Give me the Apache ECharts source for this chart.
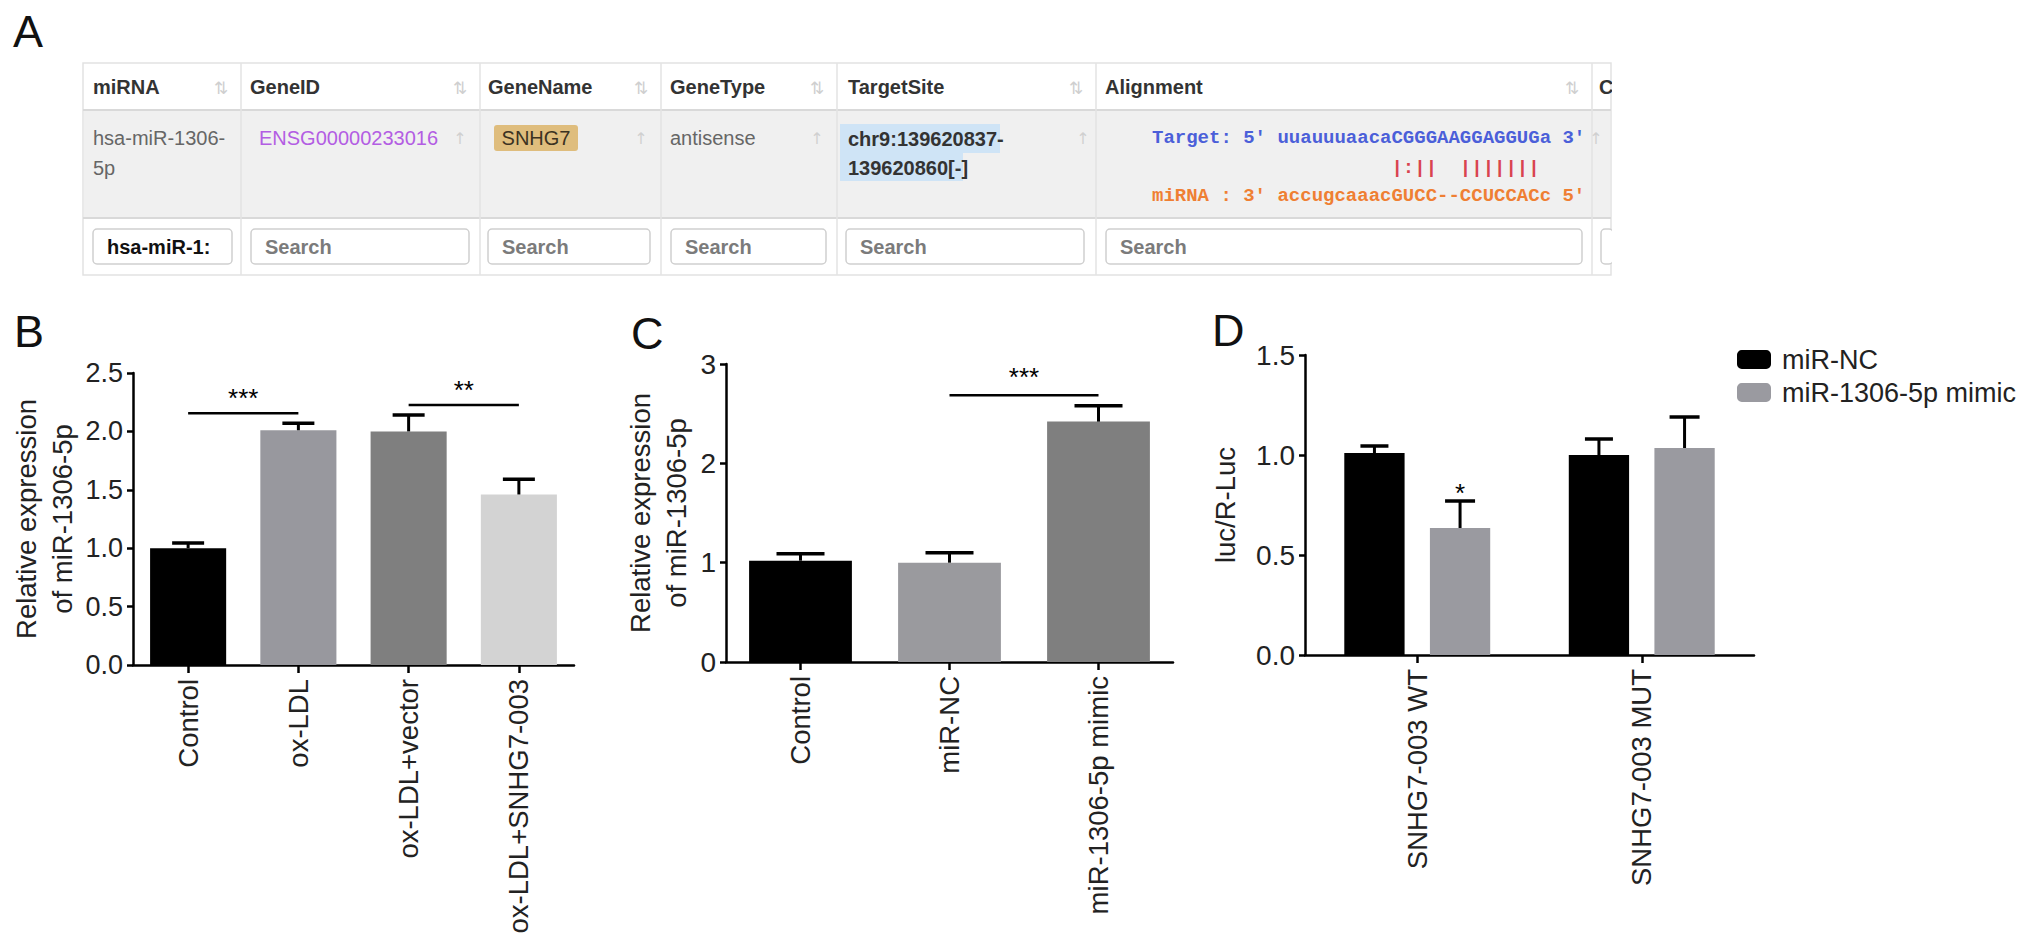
<!DOCTYPE html>
<html>
<head>
<meta charset="utf-8">
<title>SNHG7-003 / miR-1306-5p</title>
<script src="https://cdn.jsdelivr.net/npm/echarts@6.0.0/dist/echarts.min.js"></script>
<style>
  html, body { margin: 0; padding: 0; background: #fff; }
  #fig { width: 2032px; height: 950px; }
</style>
</head>
<body>
<div id="fig"></div>
<script>
// ---- panel A: starBase row ----
var tableHeaders = ['miRNA', 'GeneID', 'GeneName', 'GeneType', 'TargetSite', 'Alignment', 'C'];
var rowMirna = ['hsa-miR-1306-', '5p'];
var rowGeneId = 'ENSG00000233016';
var rowGeneName = 'SNHG7';
var rowGeneType = 'antisense';
var rowTargetSite = ['chr9:139620837-', '139620860[-]'];
var alignTarget = "Target: 5' uuauuuaacaCGGGAAGGAGGUGa 3'";
var alignPairs  = "                     |:||  |||||||";
var alignMirna  = "miRNA : 3' accugcaaacGUCC--CCUCCACc 5'";
var searchTexts = ['hsa-miR-1:', 'Search', 'Search', 'Search', 'Search', 'Search', ''];

// ---- panel B ----
var catB = ['Control', 'ox-LDL', 'ox-LDL+vector', 'ox-LDL+SNHG7-003'];
var valB = [1.0, 2.01, 2.0, 1.46];
var errB = [0.045, 0.06, 0.14, 0.13];
var sigB = [[0, 1, 2.155, '***'], [2, 3, 2.227, '**']];
var ticksB = [0, 2.5, 0.5];

// ---- panel C ----
var catC = ['Control', 'miR-NC', 'miR-1306-5p mimic'];
var valC = [1.02, 1.0, 2.42];
var errC = [0.07, 0.10, 0.16];
var sigC = [[1, 2, 2.685, '***']];
var ticksC = [0, 3, 1];

// ---- panel D ----
var catD = ['SNHG7-003 WT', 'SNHG7-003 MUT'];
var seriesNamesD = ['miR-NC', 'miR-1306-5p mimic'];
var valDnc = [1.01, 1.0];
var errDnc = [0.035, 0.08];
var valDmimic = [0.635, 1.035];
var errDmimic = [0.135, 0.155];
var starD = [[0, 0.84, '*']];
var ticksD = [0, 1.5, 0.5];

var FONT = '"Liberation Sans", Arial, sans-serif';
var MONO = '"Liberation Mono", "DejaVu Sans Mono", monospace';

// table layout
var colX = [83, 241, 480, 661, 837, 1096, 1592, 1611];
var headX = [93, 250, 488, 670, 848, 1105, 1599];
var rowArrowX = [null, 460, 641, 817, 1083, 1596];
var boxX = [[93, 232], [251, 469], [488, 650], [671, 826], [846, 1084], [1106, 1582], [1601, 1613]];
var tTop = 63, tHead = 110, tData = 218, tBot = 275;

function txt(s, x, y, o) {
  o = o || {};
  return {
    type: 'text', silent: true, z: o.z || 10,
    style: {
      text: s, x: x, y: y,
      fontSize: o.size || 20, fontFamily: o.family || FONT, fontWeight: o.weight || 'normal',
      fill: o.color || '#333', align: o.align || 'left', verticalAlign: o.va || 'middle',
      lineHeight: o.lh
    }
  };
}

var g = [];
g.push({type: 'rect', silent: true, shape: {x: colX[0], y: tTop, width: colX[7] - colX[0], height: tBot - tTop},
        style: {fill: '#fff', stroke: '#e2e2e2', lineWidth: 1.5}});
g.push({type: 'rect', silent: true, shape: {x: colX[0] + 1, y: tHead, width: colX[7] - colX[0] - 2, height: tData - tHead},
        style: {fill: '#f0f0f0'}});
[tHead, tData].forEach(function (y) {
  g.push({type: 'line', silent: true, shape: {x1: colX[0], y1: y, x2: colX[7], y2: y}, style: {stroke: '#d9d9d9', lineWidth: 2}});
});
colX.slice(1, 7).forEach(function (x) {
  g.push({type: 'line', silent: true, shape: {x1: x, y1: tTop, x2: x, y2: tBot}, style: {stroke: '#e3e3e3', lineWidth: 1.5}});
});

tableHeaders.forEach(function (h, i) {
  g.push(txt(h, headX[i], 87, {weight: 'bold', color: '#333'}));
  if (i < 6) {
    g.push(txt('\u21c5', colX[i + 1] - 20, 88, {family: '"DejaVu Sans"', size: 17, color: '#cfcfcf', align: 'center'}));
  }
  if (rowArrowX[i]) {
    g.push(txt('\u2191', rowArrowX[i], 138, {family: '"DejaVu Sans"', size: 16, color: '#d0d0d0', align: 'center'}));
  }
});

// data row
g.push(txt(rowMirna.join('\n'), 93, 123, {color: '#666', va: 'top', lh: 30}));
g.push(txt(rowGeneId, 259, 138, {color: '#b35de3'}));
g.push({type: 'rect', silent: true, shape: {x: 494, y: 125, width: 84, height: 26, r: 3}, style: {fill: '#dfbd7d'}});
g.push(txt(rowGeneName, 536, 138, {color: '#3b3222', align: 'center'}));
g.push(txt(rowGeneType, 670, 138, {color: '#666'}));
g.push({type: 'rect', silent: true, shape: {x: 840, y: 124, width: 160, height: 29}, style: {fill: '#cfe4f6'}});
g.push({type: 'rect', silent: true, shape: {x: 840, y: 153, width: 123, height: 28}, style: {fill: '#cfe4f6'}});
g.push(txt(rowTargetSite.join('\n'), 848, 124, {weight: 'bold', color: '#333', va: 'top', lh: 29}));
g.push(txt(alignTarget, 1152, 138, {family: MONO, size: 19, weight: 'bold', color: '#4b5fd9'}));
g.push(txt(alignPairs, 1152, 168, {family: MONO, size: 19, weight: 'bold', color: '#d9434f'}));
g.push(txt(alignMirna, 1152, 196, {family: MONO, size: 19, weight: 'bold', color: '#ef7f33'}));

// search row
boxX.forEach(function (b, i) {
  g.push({type: 'rect', silent: true, shape: {x: b[0], y: 229, width: b[1] - b[0], height: 35, r: 4},
          style: {fill: '#fff', stroke: '#cfcfcf', lineWidth: 1.5}});
  if (searchTexts[i]) {
    g.push(txt(searchTexts[i], b[0] + 14, 247, {weight: 'bold', color: i === 0 ? '#111' : '#7b7b7b'}));
  }
});
// white cover so the last column is cut at the table edge
g.push({type: 'rect', silent: true, z: 20, shape: {x: colX[7] + 1, y: 60, width: 40, height: 220}, style: {fill: '#fff'}});

// panel letters
[['A', 13, 31], ['B', 14, 331], ['C', 631, 333], ['D', 1212, 330]].forEach(function (p) {
  g.push(txt(p[0], p[1], p[2], {size: 45, color: '#111'}));
});

// ---- chart helpers ----
function errorBars(axis, vals, errs, capW, shift) {
  return {
    type: 'custom', xAxisIndex: axis, yAxisIndex: axis, silent: true, z: 5,
    data: vals.map(function (v, i) { return [i, v, errs[i]]; }),
    renderItem: function (params, api) {
      var base = api.coord([api.value(0), api.value(1)]);
      var top = api.coord([api.value(0), api.value(1) + api.value(2)]);
      var x = base[0] + (shift ? shift(api) : 0);
      return {type: 'group', children: [
        {type: 'line', shape: {x1: x, y1: base[1], x2: x, y2: top[1]}, style: {stroke: '#000', lineWidth: 3}},
        {type: 'line', shape: {x1: x - capW / 2, y1: top[1], x2: x + capW / 2, y2: top[1]}, style: {stroke: '#000', lineWidth: 3.5}}
      ]};
    }
  };
}

function sigLines(axis, sig, lift) {
  return {
    type: 'custom', xAxisIndex: axis, yAxisIndex: axis, silent: true, z: 6,
    data: sig.map(function (s) { return [s[0], s[1], s[2]]; }),
    renderItem: function (params, api) {
      var a = api.coord([api.value(0), api.value(2)]);
      var b = api.coord([api.value(1), api.value(2)]);
      return {type: 'group', children: [
        {type: 'line', shape: {x1: a[0], y1: a[1], x2: b[0], y2: b[1]}, style: {stroke: '#000', lineWidth: 2.5}},
        {type: 'text', style: {text: sig[params.dataIndex][3], x: (a[0] + b[0]) / 2, y: a[1] - lift,
          fontSize: 26, fontFamily: FONT, fill: '#000', align: 'center', verticalAlign: 'middle'}}
      ]};
    }
  };
}

// bar geometry of panel D (two series per category)
var gapCatD = 0.35, gapBarD = 0.42;
function shiftD(sign) {
  return function (api) {
    var cw = api.size([1, 0])[0];
    var bw = cw * (1 - gapCatD) / (2 + gapBarD);
    return sign * bw * (1 + gapBarD) / 2;
  };
}

function yAxis(idx, t, digits, name, gap, labelSize) {
  return {
    type: 'value', gridIndex: idx, min: t[0], max: t[1], interval: t[2],
    name: name, nameLocation: 'middle', nameGap: gap,
    nameTextStyle: {fontSize: 27.5, fontFamily: FONT, color: '#222', lineHeight: 36},
    axisLine: {show: true, lineStyle: {color: '#000', width: 2.5}},
    axisTick: {show: true, length: 6, lineStyle: {color: '#000', width: 2.5}},
    axisLabel: {fontSize: labelSize, fontFamily: FONT, color: '#222', margin: 10,
      formatter: function (v) { return v.toFixed(digits); }},
    splitLine: {show: false}
  };
}

function xAxis(idx, cats) {
  return {
    type: 'category', gridIndex: idx, data: cats,
    axisLine: {show: true, lineStyle: {color: '#000', width: 2.5}},
    axisTick: {show: true, alignWithLabel: true, length: 8, lineStyle: {color: '#000', width: 2.5}},
    axisLabel: {rotate: 90, interval: 0, fontSize: 27.5, fontFamily: FONT, color: '#222', margin: 14}
  };
}

var colorsB = ['#000000', '#98989e', '#7f7f7f', '#d3d3d3'];
var colorsC = ['#000000', '#9a9a9e', '#7f7f7f'];
var colorsD = ['#000000', '#9a9aa0'];

var option = {
  animation: false,
  backgroundColor: '#fff',
  graphic: g,
  legend: {
    data: seriesNamesD, orient: 'vertical', left: 1732, top: 341,
    itemWidth: 34, itemHeight: 19, itemGap: 6, icon: 'roundRect',
    textStyle: {fontSize: 27, fontFamily: FONT, color: '#222', padding: [0, 0, 0, 6], lineHeight: 27}
  },
  grid: [
    {left: 133, top: 373, width: 441, height: 292},
    {left: 726, top: 364, width: 447, height: 298},
    {left: 1305, top: 355, width: 449, height: 300}
  ],
  xAxis: [xAxis(0, catB), xAxis(1, catC), xAxis(2, catD)],
  yAxis: [
    yAxis(0, ticksB, 1, 'Relative expression\nof miR-1306-5p', 53, 27),
    yAxis(1, ticksC, 0, 'Relative expression\nof miR-1306-5p', 32, 28),
    yAxis(2, ticksD, 1, 'luc/R-Luc', 62, 28)
  ],
  series: [
    {type: 'bar', xAxisIndex: 0, yAxisIndex: 0, barCategoryGap: '31%',
     data: valB.map(function (v, i) { return {value: v, itemStyle: {color: colorsB[i]}}; })},
    errorBars(0, valB, errB, 32),
    sigLines(0, sigB, 15),
    {type: 'bar', xAxisIndex: 1, yAxisIndex: 1, barCategoryGap: '31%',
     data: valC.map(function (v, i) { return {value: v, itemStyle: {color: colorsC[i]}}; })},
    errorBars(1, valC, errC, 48),
    sigLines(1, sigC, 18),
    {type: 'bar', name: seriesNamesD[0], xAxisIndex: 2, yAxisIndex: 2, data: valDnc,
     barCategoryGap: (gapCatD * 100) + '%', barGap: (gapBarD * 100) + '%', itemStyle: {color: colorsD[0]}},
    {type: 'bar', name: seriesNamesD[1], xAxisIndex: 2, yAxisIndex: 2, data: valDmimic,
     barCategoryGap: (gapCatD * 100) + '%', barGap: (gapBarD * 100) + '%', itemStyle: {color: colorsD[1]}},
    errorBars(2, valDnc, errDnc, 28, shiftD(-1)),
    errorBars(2, valDmimic, errDmimic, 30, shiftD(1)),
    {type: 'custom', xAxisIndex: 2, yAxisIndex: 2, silent: true, z: 6,
     data: starD.map(function (s) { return [s[0], s[1]]; }),
     renderItem: function (params, api) {
       var p = api.coord([api.value(0), api.value(1)]);
       return {type: 'text', style: {text: starD[params.dataIndex][2], x: p[0] + shiftD(1)(api), y: p[1] + 6,
         fontSize: 26, fontFamily: FONT, fill: '#000', align: 'center', verticalAlign: 'middle'}};
     }}
  ]
};

var chart = echarts.init(document.getElementById('fig'), null, {renderer: 'svg'});
chart.setOption(option);
</script>
</body>
</html>
